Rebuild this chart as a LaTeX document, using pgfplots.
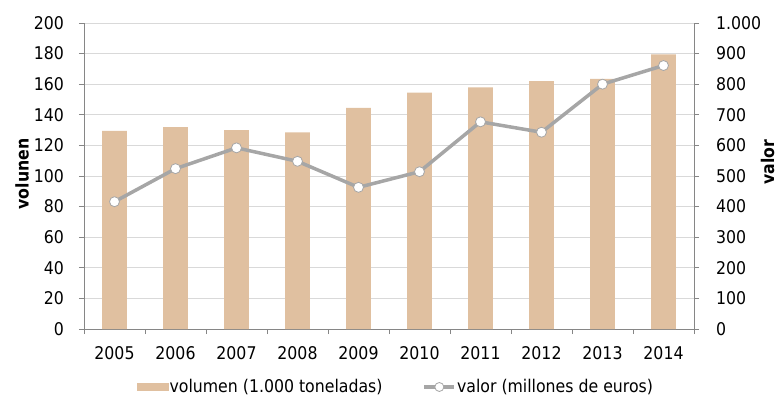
\documentclass[border=0pt]{standalone}
\usepackage{pgfplots}
\pgfplotsset{compat=1.18}
\usepackage{fontspec}
\setmainfont{DejaVu Sans Condensed}
\definecolor{barc}{RGB}{224,192,160}
\definecolor{linec}{RGB}{166,166,166}
\definecolor{gridc}{RGB}{217,217,217}
\definecolor{axc}{RGB}{134,134,134}
\newcommand{\fs}{\fontsize{17.5bp}{20bp}\selectfont}
\pgfplotsset{
  mylineleg/.style={legend image code/.code={\draw[##1, mark repeat=2, mark phase=2, mark size=4.5bp] plot coordinates {(0bp,0bp) (15bp,0bp) (30bp,0bp)};}},
  mybarleg/.style={legend image code/.code={\fill[barc] (0bp,-3.5bp) rectangle (31bp,3.5bp);}},
}
\begin{document}
\fs
\begin{tikzpicture}
\useasboundingbox (-84bp,-69bp) rectangle (695bp,329bp);
\begin{axis}[
  scale only axis, width=610bp, height=306bp,
  xmin=-0.5, xmax=9.5, ymin=0, ymax=200,
  ytick={0,20,...,200},
  xtick={-0.5,0.5,...,9.5}, xticklabels={},
  axis x line*=bottom, axis y line*=left,
  axis line style={axc, line width=0.8bp, -},
  ymajorgrids, grid style={gridc, line width=0.8bp},
  tick style={axc, line width=0.8bp},
  major tick length=5bp, tick align=outside,
  /pgf/number format/assume math mode=true,
  ticklabel style={font=\fs},
  yticklabel style={xshift=-9bp},
  ylabel={\bfseries volunen},
  ylabel style={at={(axis description cs:-0.1016,0.5065)}, anchor=center, font=\fs},
]
\addplot[ybar, bar width=24.7bp, fill=barc, draw=none] coordinates {
(0,129.5) (1,132) (2,130) (3,128.5) (4,144.5) (5,154.5) (6,158) (7,162) (8,163.5) (9,179.5)};
\end{axis}
\begin{axis}[
  scale only axis, width=610bp, height=306bp,
  xmin=-0.5, xmax=9.5, ymin=0, ymax=1000,
  ytick={0,100,...,1000},
  xtick={0,...,9},
  xticklabels={2005,2006,2007,2008,2009,2010,2011,2012,2013,2014},
  axis x line*=bottom, axis y line*=right,
  x axis line style={draw=none},
  y axis line style={axc, line width=0.8bp, -},
  xtick style={draw=none},
  ytick style={axc, line width=0.8bp},
  major tick length=5bp, tick align=outside,
  /pgf/number format/assume math mode=true,
  /pgf/number format/1000 sep={.},
  ticklabel style={font=\fs},
  yticklabel style={xshift=11bp},
  xticklabel style={yshift=-6bp},
  ylabel={\bfseries valor},
  ylabel style={at={(axis description cs:1.1205,0.5458)}, anchor=center, rotate=0, font=\fs},
  legend columns=2,
  legend style={at={(axis description cs:0.0869,-0.1895)}, anchor=west, draw=none, fill=none,
    inner sep=0pt, font=\fs,
    /tikz/every even column/.append style={column sep=39bp},
    nodes={inner sep=1bp}},
]
\addlegendimage{mybarleg}
\addlegendentry{volumen (1.000 toneladas)}
\addplot[linec, line width=3.5bp, mark=*, mark size=5bp,
  mark options={fill=white, draw=linec, line width=0.8bp}, mylineleg]
  coordinates {
(0,416) (1,524) (2,592) (3,548) (4,463) (5,514) (6,677) (7,643) (8,800) (9,861)};
\addlegendentry{valor (millones de euros)}
\end{axis}
\end{tikzpicture}
\end{document}
